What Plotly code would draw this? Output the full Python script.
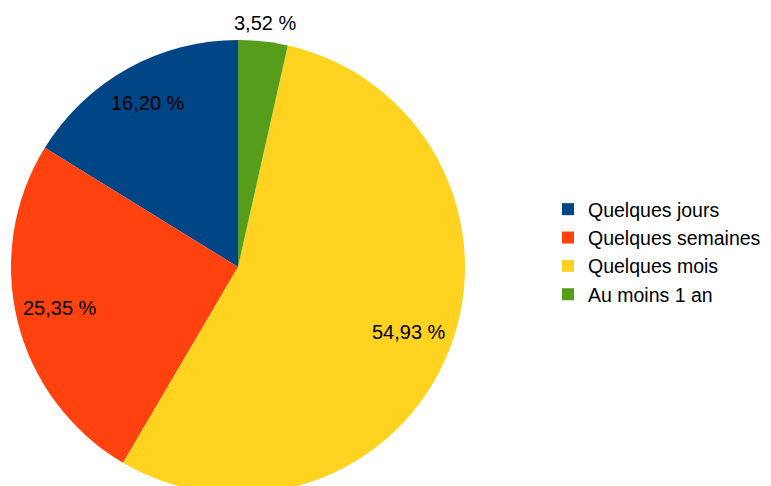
import math
import plotly.graph_objects as go

labels = ["Quelques jours", "Quelques semaines", "Quelques mois", "Au moins 1 an"]
values = [16.20, 25.35, 54.93, 3.52]
colors = ["#004586", "#ff420e", "#ffd320", "#579d1c"]

OFF = 8  # page body margin
W, H = 771 + OFF, 486 + OFF
cx, cy, r = 238 - OFF, 267 - OFF, 227  # pie layout in figure pixels

texts = [f"{v:.2f} %".replace(".", ",") for v in values]
total = sum(values)

fig = go.Figure()
fig.add_trace(go.Pie(
    labels=labels, values=values, sort=False, direction="counterclockwise",
    rotation=-values[0] / total * 360, marker=dict(colors=colors, line=dict(width=0)),
    textinfo="none", hoverinfo="label+percent",
    domain=dict(x=[(cx - r) / W, (cx + r) / W], y=[max(0, 1 - (cy + r) / H), 1 - (cy - r) / H]),
))

# label positions from slice mid-angles
cum = 0
anns = []
for v, t in zip(values, texts):
    mid = (cum + v / 2) / total * 2 * math.pi  # counterclockwise from top
    cum += v
    frac = 0.81 if v / total > 0.05 else 1.08
    px = cx - r * frac * math.sin(mid)
    py = cy - r * frac * math.cos(mid) - (3 if v / total > 0.05 else 0)
    anns.append(dict(x=px / W, y=1 - py / H, xref="paper", yref="paper",
                     text=t, showarrow=False, xanchor="center", yanchor="middle",
                     font=dict(size=20, color="#000000", family="Liberation Sans")))

fig.update_layout(
    width=W, height=H, margin=dict(l=0, r=0, t=0, b=0),
    paper_bgcolor="white", plot_bgcolor="white",
    font=dict(family="Liberation Sans", size=20, color="#000000"),
    annotations=anns,
    legend=dict(x=(589 - OFF - 41) / W, y=1 - (252 - OFF) / H, xanchor="left", yanchor="middle",
                font=dict(size=19.5), tracegroupgap=0, bgcolor="rgba(0,0,0,0)",
                borderwidth=0),
    showlegend=True,
)
fig.write_html("out.html")
